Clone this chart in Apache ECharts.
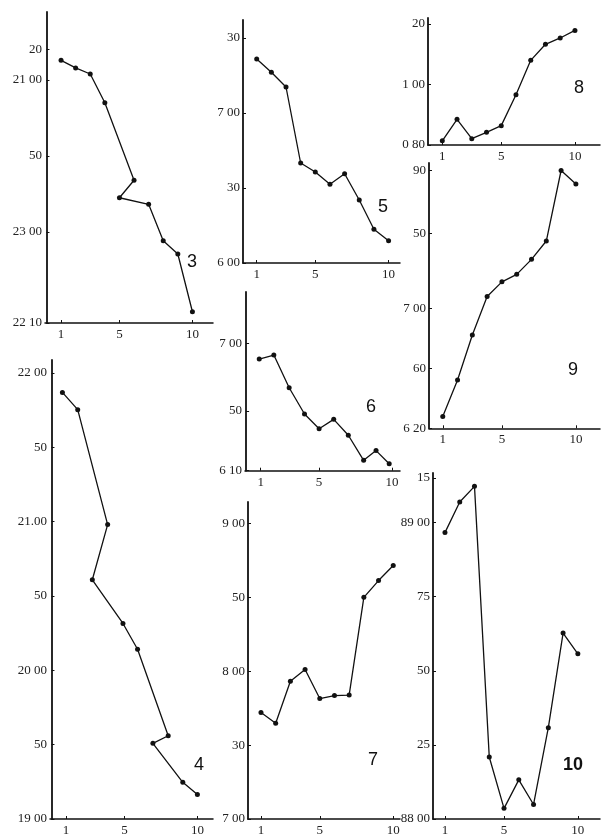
<!DOCTYPE html>
<html>
<head>
<meta charset="utf-8">
<script src="https://cdn.jsdelivr.net/npm/echarts@6/dist/echarts.min.js"></script>
<style>
  html, body { margin: 0; padding: 0; background: #fff; }
  #main { width: 601px; height: 837px; }
</style>
</head>
<body>
<div id="main"></div>
<script>
// x positions of the points (1..10); panels 3, 4, 6 go back and forth
const xs = [1, 2, 3, 4, 5, 6, 7, 8, 9, 10];
const p3X = [1, 2, 3, 4, 6, 5, 7, 8, 9, 10];
const p4X = [0.75, 1.8, 3.85, 2.8, 4.9, 5.9, 8.0, 6.95, 9.0, 10.0];
const p6X = [0.9, 1.9, 2.95, 4, 5, 6, 7, 8.05, 8.9, 9.8];

// y values, in the units of each panel's own axis
const p3Y = [172.8, 167.8, 163.8, 144.9, 93.9, 82.4, 78.1, 54.1, 45.4, 7.4];
const p4Y = [286.9, 275.3, 198, 160.9, 131.5, 114.2, 56, 50.9, 24.7, 16.5];
const p5Y = [81.6, 76.3, 70.4, 40, 36.4, 31.5, 35.7, 25.2, 13.5, 8.9];
const p6Y = [56.1, 58.1, 41.7, 28.5, 21.1, 25.8, 17.8, 5.2, 10.1, 3.5];
const p7Y = [43.2, 38.9, 55.9, 60.7, 48.9, 50.1, 50.3, 90, 96.8, 102.9];
const p8Y = [0.814, 0.885, 0.821, 0.842, 0.864, 0.966, 1.08, 1.133, 1.154, 1.179];
const p9Y = [3.9, 16.1, 31.1, 43.9, 48.8, 51.3, 56.3, 62.4, 85.9, 81.4];
const p10Y = [88.966, 89.069, 89.122, 88.209, 88.036, 88.132, 88.049, 88.308, 88.627, 88.557];

// tick positions and their printed labels
const xTicks = [1, 5, 10];
const p3Ticks = [0, 60, 110, 160, 180];
const p3Labels = ['22 10', '23 00', '50', '21 00', '20'];
const p4Ticks = [0, 50, 100, 150, 200, 250, 300];
const p4Labels = ['19 00', '50', '20 00', '50', '21.00', '50', '22 00'];
const p5Ticks = [0, 30, 60, 90];
const p5Labels = ['6 00', '30', '7 00', '30'];
const p6Ticks = [0, 30, 64];
const p6Labels = ['6 10', '50', '7 00'];
const p7Ticks = [0, 30, 60, 90, 120];
const p7Labels = ['7 00', '30', '8 00', '50', '9 00'];
const p8Ticks = [0.8, 1.0, 1.2];
const p8Labels = ['0 80', '1 00', '20'];
const p9Ticks = [0, 20, 40, 65, 86];
const p9Labels = ['6 20', '60', '7 00', '50', '90'];
const p10Ticks = [88, 88.25, 88.5, 88.75, 89, 89.15];
const p10Labels = ['88 00', '25', '50', '75', '89 00', '15'];

// layout of the panels (pixels) and axis extents
const panels = [
  { name: '3', x: p3X, y: p3Y, ticks: p3Ticks, labels: p3Labels, box: [45, 12, 168, 311], xr: [-0.1, 11.41], yr: [0, 204.6], tag: [192, 262] },
  { name: '4', x: p4X, y: p4Y, ticks: p4Ticks, labels: p4Labels, box: [50, 360, 163, 463], xr: [-0.1, 11.07], yr: [0, 308.7], tag: [199, 765] },
  { name: '5', x: xs, y: p5Y, ticks: p5Ticks, labels: p5Labels, box: [243, 20, 157, 243], xr: [0.065, 10.78], yr: [0, 97.2], tag: [383, 207] },
  { name: '6', x: p6X, y: p6Y, ticks: p6Ticks, labels: p6Labels, box: [245, 292, 155, 178.7], xr: [-0.075, 10.54], yr: [0, 89.8], tag: [371, 407] },
  { name: '7', x: xs, y: p7Y, ticks: p7Ticks, labels: p7Labels, box: [248, 502, 152, 318], xr: [0.116, 10.46], yr: [0, 128.7], tag: [373, 760] },
  { name: '8', x: xs, y: p8Y, ticks: p8Ticks, labels: p8Labels, box: [428, 18, 172, 127], xr: [0.03, 11.7], yr: [0.8, 1.22], tag: [579, 88] },
  { name: '9', x: xs, y: p9Y, ticks: p9Ticks, labels: p9Labels, box: [429, 163, 171, 265.3], xr: [0.07, 11.63], yr: [0, 88.4], tag: [573, 370] },
  { name: '10', x: xs, y: p10Y, ticks: p10Ticks, labels: p10Labels, box: [433, 473, 167, 347], xr: [0.19, 11.5], yr: [88, 89.167], tag: [573, 765] },
];

const labelFont = {
  fontFamily: 'Liberation Serif',
  fontSize: 13,
  color: '#222',
};

const grid = [];
const xAxis = [];
const yAxis = [];
const series = [];
const graphic = [];

panels.forEach((p, i) => {
  grid.push({
    left: p.box[0],
    top: p.box[1],
    width: p.box[2],
    height: p.box[3],
    containLabel: false,
  });
  xAxis.push({
    type: 'value',
    gridIndex: i,
    min: p.xr[0],
    max: p.xr[1],
    splitLine: { show: false },
    axisLine: { lineStyle: { color: '#111', width: 1.5 } },
    axisTick: { inside: true, length: 3, customValues: xTicks, lineStyle: { color: '#111' } },
    axisLabel: { ...labelFont, margin: 5, customValues: xTicks },
  });
  yAxis.push({
    type: 'value',
    gridIndex: i,
    min: p.yr[0],
    max: p.yr[1],
    splitLine: { show: false },
    axisLine: { show: true, lineStyle: { color: '#111', width: 1.8 } },
    axisTick: { show: true, inside: true, length: 3, customValues: p.ticks, lineStyle: { color: '#111' } },
    axisLabel: {
      ...labelFont,
      margin: 3,
      customValues: p.ticks,
      formatter(v) {
        const k = p.ticks.findIndex((t) => Math.abs(t - v) < 1e-6);
        return k >= 0 ? p.labels[k] : '';
      },
    },
  });
  series.push({
    name: p.name,
    type: 'line',
    xAxisIndex: i,
    yAxisIndex: i,
    data: p.x.map((xv, k) => [xv, p.y[k]]),
    symbol: 'circle',
    symbolSize: 5,
    showSymbol: true,
    animation: false,
    lineStyle: { color: '#111', width: 1.3 },
    itemStyle: { color: '#111' },
  });
  graphic.push({
    type: 'text',
    x: p.tag[0],
    y: p.tag[1],
    style: {
      text: p.name,
      fontFamily: 'Liberation Sans',
      fontSize: 18,
      fontWeight: p.name === '10' ? 'bold' : 'normal',
      fill: '#111',
      align: 'center',
      verticalAlign: 'middle',
    },
  });
});

const chart = echarts.init(document.getElementById('main'));
chart.setOption({
  backgroundColor: '#fff',
  animation: false,
  grid,
  xAxis,
  yAxis,
  series,
  graphic,
});
</script>
</body>
</html>
